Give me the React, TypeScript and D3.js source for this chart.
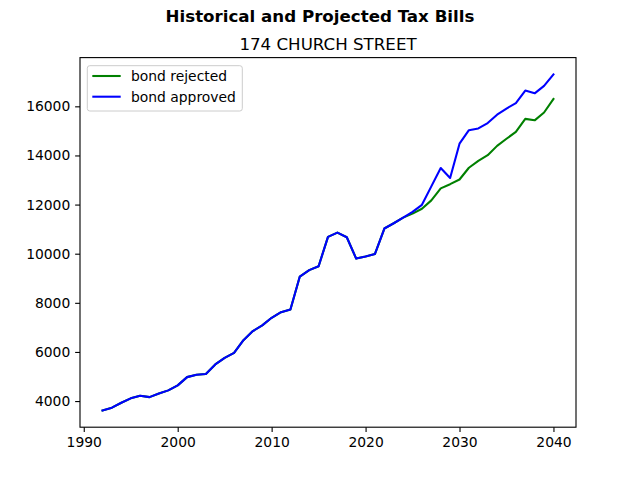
import * as d3 from 'd3'
import { useEffect, useRef } from 'react'

const years = [
    1992, 1993, 1994, 1995, 1996, 1997, 1998, 1999, 2000, 2001,
    2002, 2003, 2004, 2005, 2006, 2007, 2008, 2009, 2010, 2011,
    2012, 2013, 2014, 2015, 2016, 2017, 2018, 2019, 2020, 2021,
    2022, 2023, 2024, 2025, 2026, 2027, 2028, 2029, 2030, 2031,
    2032, 2033, 2034, 2035, 2036, 2037, 2038, 2039, 2040,
];

const bondRejected = [
    3620, 3730, 3930, 4110, 4215, 4160, 4310, 4435, 4640, 4975,
    5070, 5100, 5490, 5760, 5965, 6480, 6850, 7080, 7390, 7620,
    7730, 9070, 9330, 9490, 10685, 10860, 10670, 9800, 9890, 9990,
    11025, 11240, 11470, 11630, 11830, 12170, 12660, 12830, 13020, 13500,
    13780, 14010, 14390, 14680, 14960, 15490, 15430, 15750, 16300,
];

const bondApproved = [
    3620, 3730, 3930, 4110, 4215, 4160, 4310, 4435, 4640, 4975,
    5070, 5100, 5490, 5760, 5965, 6480, 6850, 7080, 7390, 7620,
    7730, 9070, 9330, 9490, 10685, 10860, 10670, 9800, 9890, 9990,
    11025, 11240, 11470, 11700, 11990, 12740, 13490, 13085, 14480, 15030,
    15100, 15320, 15660, 15910, 16130, 16640, 16530, 16830, 17300,
];

const xTicks = [1990, 2000, 2010, 2020, 2030, 2040];
const yTicks = [4000, 6000, 8000, 10000, 12000, 14000, 16000];

const seriesNames = ['bond rejected', 'bond approved'];
const seriesColors = ['#008000', '#0000ff'];

const FONT = 'DejaVu Sans, sans-serif';
// 100 dpi figure: 1pt = 100/72 px
const PT = 100 / 72;

const drawChart = (svgEl: SVGSVGElement) => {
    const width = 640;
    const height = 480;
    const left = 80, right = 576, top = 57.6, bottom = 427.2;

    const svg = d3.select(svgEl);
    svg.selectAll('*').remove();

    svg.append('rect').attr('width', width).attr('height', height).attr('fill', '#fff');

    // matplotlib style 5% margins
    const [x0, x1] = d3.extent(years) as [number, number];
    const allVals = bondRejected.concat(bondApproved);
    const [y0, y1] = d3.extent(allVals) as [number, number];
    const xPad = (x1 - x0) * 0.05;
    const yPad = (y1 - y0) * 0.05;

    const x = d3.scaleLinear().domain([x0 - xPad, x1 + xPad]).range([left, right]);
    const y = d3.scaleLinear().domain([y0 - yPad, y1 + yPad]).range([bottom, top]);

    const line = d3.line<number>()
        .x((_, i) => x(years[i]))
        .y(d => y(d));

    const plot = svg.append('g');
    [bondRejected, bondApproved].forEach((vals, i) => {
        plot.append('path')
            .datum(vals)
            .attr('fill', 'none')
            .attr('stroke', seriesColors[i])
            .attr('stroke-width', 1.5 * PT)
            .attr('stroke-linejoin', 'round')
            .attr('stroke-linecap', 'square')
            .attr('d', line);
    });

    // axes
    const tick = 3.5 * PT;
    const xAxis = svg.append('g')
        .attr('transform', `translate(0,${bottom})`)
        .call(d3.axisBottom(x).tickValues(xTicks).tickFormat(d3.format('d')).tickSize(tick).tickPadding(tick));
    const yAxis = svg.append('g')
        .attr('transform', `translate(${left},0)`)
        .call(d3.axisLeft(y).tickValues(yTicks).tickFormat(d3.format('d')).tickSize(tick).tickPadding(tick));

    [xAxis, yAxis].forEach(ax => {
        ax.select('.domain').remove();
        ax.selectAll('line').attr('stroke', '#000').attr('stroke-width', 0.8 * PT);
        ax.selectAll('text')
            .attr('fill', '#000')
            .attr('font-family', FONT)
            .attr('font-size', `${10 * PT}px`);
    });

    svg.append('rect')
        .attr('x', left).attr('y', top)
        .attr('width', right - left).attr('height', bottom - top)
        .attr('fill', 'none').attr('stroke', '#000').attr('stroke-width', 0.8 * PT);

    // titles
    svg.append('text')
        .attr('x', width / 2).attr('y', 22)
        .attr('text-anchor', 'middle')
        .attr('font-family', FONT).attr('font-size', `${12 * PT}px`).attr('font-weight', 'bold')
        .text('Historical and Projected Tax Bills');

    svg.append('text')
        .attr('x', (left + right) / 2).attr('y', 49.5)
        .attr('text-anchor', 'middle')
        .attr('font-family', FONT).attr('font-size', `${12 * PT}px`)
        .text('174 CHURCH STREET');

    // legend
    const lg = svg.append('g');
    lg.append('rect')
        .attr('x', 87.3).attr('y', 65.7)
        .attr('width', 155).attr('height', 45.3)
        .attr('rx', 2.5)
        .attr('fill', 'rgba(255,255,255,0.8)')
        .attr('stroke', '#cccccc').attr('stroke-width', 1);

    seriesNames.forEach((name, i) => {
        const ly = 76 + i * 20.7;
        lg.append('line')
            .attr('x1', 92.3).attr('x2', 120.7)
            .attr('y1', ly).attr('y2', ly)
            .attr('stroke', seriesColors[i]).attr('stroke-width', 1.5 * PT);
        lg.append('text')
            .attr('x', 131).attr('y', ly)
            .attr('dy', '0.35em')
            .attr('font-family', FONT).attr('font-size', `${10 * PT}px`)
            .attr('fill', '#000')
            .text(name);
    });
};

const App = () => {
    const ref = useRef<SVGSVGElement>(null);

    useEffect(() => {
        if (ref.current) drawChart(ref.current);
    }, []);

    return (
        <svg ref={ref} width={640} height={480}
            style={{ position: 'absolute', left: 0, top: 0, display: 'block' }} />
    );
};

export default App
